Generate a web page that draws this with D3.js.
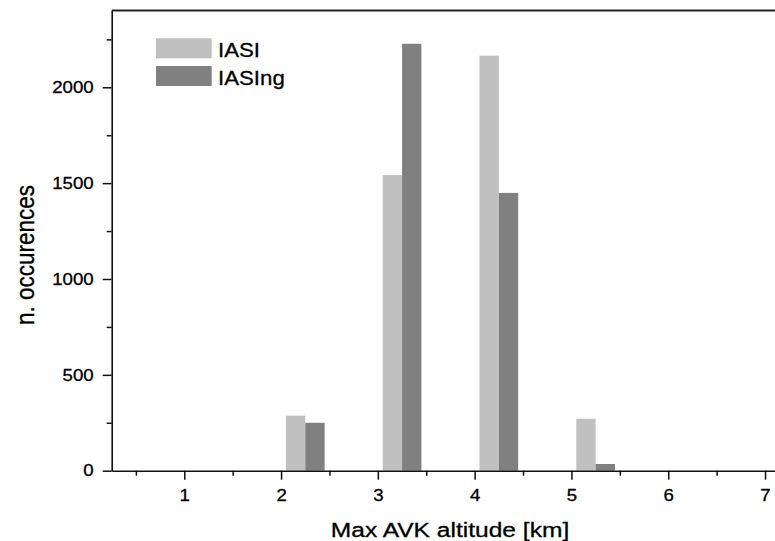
<!DOCTYPE html>
<html><head><meta charset="utf-8">
<script src="https://cdn.jsdelivr.net/npm/d3@7"></script>
<style>
html,body{margin:0;padding:0;background:#fff;overflow:hidden;}
text{font-family:"Liberation Sans",Arial,sans-serif;fill:#000;stroke:#000;stroke-width:0.3px;}
</style></head>
<body>
<svg id="c" width="775" height="541"></svg>
<script>
const categories = [1, 2, 3, 4, 5, 6, 7];
const seriesNames = ["IASI", "IASIng"];
const iasi   = [0, 287, 1542, 2165, 271, 0, 0];
const iasing = [0, 250, 2227, 1449, 35, 0, 0];
const yMajorTicks = [0, 500, 1000, 1500, 2000];
const yMinorTicks = [250, 750, 1250, 1750, 2250];
const xMajorTicks = [1, 2, 3, 4, 5, 6, 7];
const xMinorTicks = [0.5, 1.5, 2.5, 3.5, 4.5, 5.5, 6.5, 7.5];
const colors = ["#c0c0c0", "#808080"];

const svg = d3.select("#c");
const x = d3.scaleLinear().domain([0.25, 7.25]).range([111.7, 789.2]);
const y = d3.scaleLinear().domain([0, 2400]).range([470.7, 10.6]);

// bars
const series = [iasi, iasing];
series.forEach((vals, si) => {
  svg.append("g").selectAll("rect").data(categories).join("rect")
    .attr("x", (c) => x(c + 0.05 + si * 0.2))
    .attr("width", (c) => x(c + 0.25 + si * 0.2) - x(c + 0.05 + si * 0.2))
    .attr("y", (c, i) => y(vals[i]))
    .attr("height", (c, i) => y(0) - y(vals[i]))
    .attr("fill", colors[si]);
});

function widen(sel, f) {
  sel.each(function () {
    const t = d3.select(this);
    const xv = +(t.attr("x") || 0);
    t.attr("x", 0).attr("transform", `translate(${xv},0) scale(${f},1)`);
  });
}

// x axis
const gx = svg.append("g").attr("transform", `translate(0,${y(0)})`);
gx.call(d3.axisBottom(x).tickValues(xMinorTicks).tickSize(5).tickFormat(""));
gx.call(g => g.select(".domain").remove());
const gx2 = svg.append("g").attr("transform", `translate(0,${y(0)})`)
  .call(d3.axisBottom(x).tickValues(xMajorTicks).tickSize(9).tickSizeOuter(0).tickPadding(10).tickFormat(d3.format("d")));
gx2.selectAll("text").attr("font-size", 16.5).attr("font-family", "Liberation Sans, Arial, sans-serif").attr("fill", "#000");
gx2.select(".domain").attr("stroke", "#111").attr("stroke-width", 1.6);
widen(gx2.selectAll("text"), 1.13);

// y axis
const gy = svg.append("g").attr("transform", `translate(${x(0.25)},0)`);
gy.call(d3.axisLeft(y).tickValues(yMinorTicks).tickSize(5).tickFormat(""));
gy.call(g => g.select(".domain").remove());
const gy2 = svg.append("g").attr("transform", `translate(${x(0.25)},0)`)
  .call(d3.axisLeft(y).tickValues(yMajorTicks).tickSize(9).tickSizeOuter(0).tickPadding(9).tickFormat(d3.format("d")));
gy2.selectAll("text").attr("font-size", 16.5).attr("font-family", "Liberation Sans, Arial, sans-serif").attr("fill", "#000");
gy2.select(".domain").attr("stroke", "#111").attr("stroke-width", 1.6);
widen(gy2.selectAll("text"), 1.13);
svg.selectAll(".tick line").attr("stroke", "#111").attr("stroke-width", 1.5);

// top frame line
svg.append("line").attr("x1", x(0.25)).attr("x2", 775).attr("y1", y(2400)).attr("y2", y(2400))
  .attr("stroke", "#222").attr("stroke-width", 2);

// axis titles
svg.append("text").attr("transform", "translate(450,536.5) scale(1.17,1)")
  .attr("text-anchor", "middle").attr("font-size", 21).text("Max AVK altitude [km]");
svg.append("text").attr("transform", "translate(33.5,255) rotate(-90) scale(1,1.15)")
  .attr("text-anchor", "middle").attr("font-size", 22.5).text("n. occurences");

// legend
const leg = svg.append("g");
seriesNames.forEach((n, i) => {
  leg.append("rect").attr("x", 156).attr("y", 38.3 + i * 27.7).attr("width", 55.7).attr("height", 20)
    .attr("fill", colors[i]);
  leg.append("text").attr("transform", `translate(218,${56.7 + i * 28.3}) scale(1.06,1)`)
    .attr("font-size", 21).text(n);
});
</script>
</body></html>
